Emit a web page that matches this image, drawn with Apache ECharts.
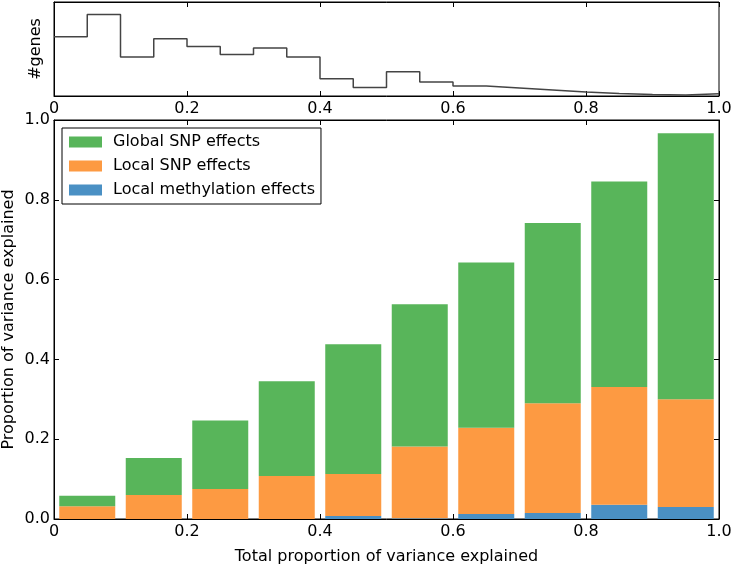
<!DOCTYPE html>
<html>
<head>
<meta charset="utf-8">
<script src="https://cdn.jsdelivr.net/npm/echarts@6/dist/echarts.min.js"></script>
<style>
  html, body { margin: 0; padding: 0; background: #fff; }
  #chart { width: 733px; height: 566px; }
</style>
</head>
<body>
<div id="chart"></div>
<script>
// histogram of genes (top panel), step outline over bins of 0.05
const binStarts = [0, 0.05, 0.1, 0.15, 0.2, 0.25, 0.3, 0.35, 0.4, 0.45,
                   0.5, 0.55, 0.6, 0.65, 0.7, 0.75, 0.8, 0.85, 0.9, 0.95];
const geneCounts = [59.3, 81.6, 39, 57.3, 49.6, 41.6, 48, 39, 17.3, 8.6,
                    24.3, 14, 10, 8, 6, 4, 2.6, 1.6, 1, 2.3];

// stacked bars (bottom panel), one per 0.1 bin
const barBins = ['0.05', '0.15', '0.25', '0.35', '0.45', '0.55', '0.65', '0.75', '0.85', '0.95'];
const methylation = [0, 0, 0, 0, 0.0075, 0.002, 0.0125, 0.015, 0.036, 0.03];
const localSnp = [0.032, 0.06, 0.075, 0.108, 0.1055, 0.1795, 0.2165, 0.275, 0.295, 0.27];
const globalSnp = [0.026, 0.093, 0.172, 0.237, 0.325, 0.357, 0.414, 0.452, 0.515, 0.667];

const chart = echarts.init(document.getElementById('chart'));

const font = 'DejaVu Sans';
const black = '#000';

let histPts = binStarts.map((x, i) => [x, geneCounts[i]]);
histPts.push([1.0, geneCounts[geneCounts.length - 1]]);

function fmtX(v) { return v === 0 ? '0' : v.toFixed(1); }

const inTick = { show: true, inside: true, length: 5, lineStyle: { color: black, width: 1 } };
const line = { onZero: false, lineStyle: { color: black, width: 1 } };

chart.setOption({
  animation: false,
  textStyle: { fontFamily: font },
  grid: [
    { left: 54, right: 14, top: 2, height: 94, show: true, borderColor: black, borderWidth: 1,
      containLabel: false, outerBoundsMode: 'none' },
    { left: 54, right: 14, top: 120, height: 399, show: true, borderColor: black, borderWidth: 1,
      containLabel: false, outerBoundsMode: 'none' }
  ],
  xAxis: [
    { gridIndex: 0, type: 'value', min: 0, max: 1, interval: 0.2, position: 'bottom',
      axisLine: line, axisTick: inTick, splitLine: { show: false },
      axisLabel: { color: black, fontSize: 16, margin: 5, formatter: fmtX } },
    { gridIndex: 0, type: 'value', min: 0, max: 1, interval: 0.2, position: 'top',
      axisLine: line, axisTick: inTick, splitLine: { show: false },
      axisLabel: { show: false } },
    { gridIndex: 1, type: 'value', min: 0, max: 1, interval: 0.2, position: 'bottom',
      axisLine: line, axisTick: inTick, splitLine: { show: false },
      axisLabel: { color: black, fontSize: 16, margin: 5, formatter: fmtX },
      name: 'Total proportion of variance explained', nameLocation: 'middle', nameGap: 30,
      nameTextStyle: { color: black, fontSize: 16, fontFamily: font } },
    { gridIndex: 1, type: 'value', min: 0, max: 1, interval: 0.2, position: 'top',
      axisLine: line, axisTick: inTick, splitLine: { show: false },
      axisLabel: { show: false } },
    { gridIndex: 1, type: 'category', data: barBins, show: false }
  ],
  yAxis: [
    { gridIndex: 0, type: 'value', min: 0, max: 94,
      axisLine: line, axisTick: { show: false },
      axisLabel: { show: false }, splitLine: { show: false },
      name: '#genes', nameLocation: 'middle', nameGap: 10,
      nameTextStyle: { color: black, fontSize: 16, fontFamily: font } },
    { gridIndex: 1, type: 'value', min: 0, max: 1, interval: 0.2, position: 'left',
      axisLine: line, axisTick: inTick, splitLine: { show: false },
      axisLabel: { color: black, fontSize: 16, margin: 4, formatter: v => v.toFixed(1) },
      name: 'Proportion of variance explained', nameLocation: 'middle', nameGap: 37,
      nameMoveOverlap: false,
      nameTextStyle: { color: black, fontSize: 16, fontFamily: font } },
    { gridIndex: 1, type: 'value', min: 0, max: 1, interval: 0.2, position: 'right',
      axisLine: line, axisTick: inTick, splitLine: { show: false },
      axisLabel: { show: false } }
  ],
  legend: {
    orient: 'vertical', left: 62, top: 128,
    padding: [6, 6, 6, 7], itemGap: 8, itemWidth: 33, itemHeight: 11,
    icon: 'rect',
    borderColor: black, borderWidth: 1, borderRadius: 0,
    textStyle: { color: black, fontSize: 16, fontFamily: font, padding: [0, 0, 0, 6] },
    data: ['Global SNP effects', 'Local SNP effects', 'Local methylation effects']
  },
  series: [
    { type: 'line', xAxisIndex: 0, yAxisIndex: 0, step: 'end', data: histPts,
      symbol: 'none', lineStyle: { color: '#444', width: 1.5 } },
    { name: 'Local methylation effects', type: 'bar', xAxisIndex: 4, yAxisIndex: 1, stack: 'v',
      barWidth: 56, itemStyle: { color: '#4a90c4' }, data: methylation },
    { name: 'Local SNP effects', type: 'bar', xAxisIndex: 4, yAxisIndex: 1, stack: 'v',
      barWidth: 56, itemStyle: { color: '#fd9a42' }, data: localSnp },
    { name: 'Global SNP effects', type: 'bar', xAxisIndex: 4, yAxisIndex: 1, stack: 'v',
      barWidth: 56, itemStyle: { color: '#58b55a' }, data: globalSnp }
  ]
});
</script>
</body>
</html>
